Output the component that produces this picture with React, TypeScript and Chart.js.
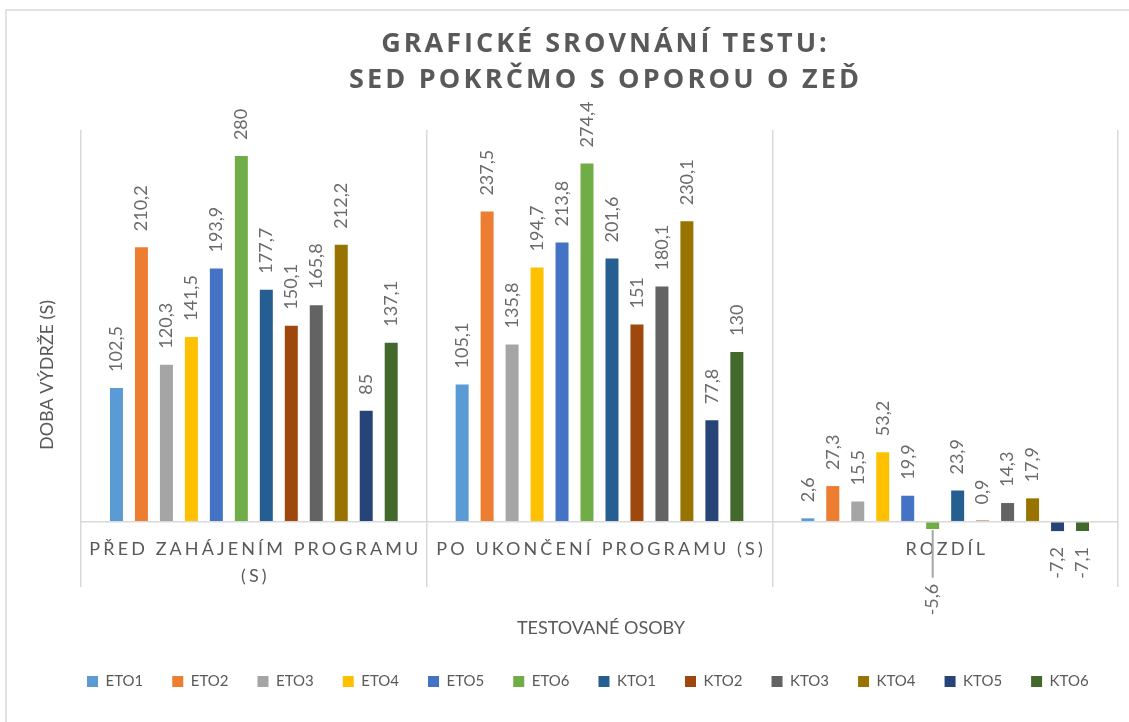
import React, { useEffect, useRef } from 'react';
import { Chart, registerables } from 'chart.js';

Chart.register(...registerables);

// ---- data ----
const categoryLines: string[][] = [
  ['PŘED ZAHÁJENÍM PROGRAMU', '(S)'],
  ['PO UKONČENÍ PROGRAMU (S)'],
  ['ROZDÍL'],
];
const seriesNames = ['ETO1', 'ETO2', 'ETO3', 'ETO4', 'ETO5', 'ETO6', 'KTO1', 'KTO2', 'KTO3', 'KTO4', 'KTO5', 'KTO6'];
const beforeValues = [102.5, 210.2, 120.3, 141.5, 193.9, 280, 177.7, 150.1, 165.8, 212.2, 85, 137.1];
const afterValues = [105.1, 237.5, 135.8, 194.7, 213.8, 274.4, 201.6, 151, 180.1, 230.1, 77.8, 130];
const diffValues = [2.6, 27.3, 15.5, 53.2, 19.9, -5.6, 23.9, 0.9, 14.3, 17.9, -7.2, -7.1];
const seriesColors = ['#5B9BD5', '#ED7D31', '#A5A5A5', '#FFC000', '#4472C4', '#70AD47', '#255E91', '#9E480E', '#636363', '#997300', '#264478', '#43682B'];
const titleLines = ['GRAFICKÉ SROVNÁNÍ TESTU:', 'SED POKRČMO S OPOROU O ZEĎ'];
const yTitle = 'DOBA VÝDRŽE (S)';
const xTitle = 'TESTOVANÉ OSOBY';
const yMin = -50;
const yMax = 300;

const TEXT = '#595959';
const LABEL = '#6a6a6a';
const GRID = '#d9d9d9';

const fmt = (v: number) => String(v).replace('.', ',');

function drawSpaced(ctx: CanvasRenderingContext2D, text: string, x: number, y: number, spacing: number) {
  (ctx as any).letterSpacing = spacing + 'px';
  ctx.textAlign = 'center';
  ctx.fillText(text, x + spacing / 2, y);
  (ctx as any).letterSpacing = '0px';
}

const catFont = '18px Lato';
const catSpacing = 3.1;
const catLineH = 27;
const catOffset = 27; // from zero line to first line centre

const excelPlugin = {
  id: 'excelText',
  beforeDraw(chart: any) {
    const ctx: CanvasRenderingContext2D = chart.ctx;
    ctx.save();
    // outer chart border
    ctx.strokeStyle = '#e3e3e3';
    ctx.lineWidth = 2;
    ctx.strokeRect(6, 10, 1200, 800);
    // title
    ctx.fillStyle = TEXT;
    ctx.font = 'bold 27px "Open Sans"';
    ctx.textBaseline = 'middle';
    drawSpaced(ctx, titleLines[0], 604, 44, 3);
    drawSpaced(ctx, titleLines[1], 604, 80, 3.2);
    // axis titles
    ctx.font = '18px Lato';
    ctx.textAlign = 'center';
    ctx.fillText(xTitle, 601, 628);
    ctx.translate(47, 375);
    ctx.rotate(-Math.PI / 2);
    ctx.fillText(yTitle, 0, 0);
    ctx.restore();
  },
  afterDatasetsDraw(chart: any) {
    const ctx: CanvasRenderingContext2D = chart.ctx;
    const xs = chart.scales.x;
    const ys = chart.scales.y;
    const zeroY = ys.getPixelForValue(0);
    ctx.save();
    // category labels next to the zero line
    ctx.font = catFont;
    ctx.fillStyle = TEXT;
    ctx.textBaseline = 'middle';
    const boxes: { l: number; r: number; t: number; b: number }[] = [];
    categoryLines.forEach((lines, ci) => {
      const cx = xs.getPixelForValue(ci);
      let maxW = 0;
      lines.forEach((ln, li) => {
        (ctx as any).letterSpacing = catSpacing + 'px';
        maxW = Math.max(maxW, ctx.measureText(ln).width);
        drawSpaced(ctx, ln, cx, zeroY + catOffset + li * catLineH, catSpacing);
      });
      boxes.push({
        l: cx - maxW / 2,
        r: cx + maxW / 2,
        t: zeroY + catOffset - 10,
        b: zeroY + catOffset + (lines.length - 1) * catLineH + 10,
      });
    });
    // data labels
    ctx.font = '18px Lato';
    ctx.fillStyle = LABEL;
    ctx.textBaseline = 'middle';
    const gap = 16;
    chart.data.datasets.forEach((ds: any, di: number) => {
      const meta = chart.getDatasetMeta(di);
      meta.data.forEach((el: any, ci: number) => {
        const v = ds.data[ci];
        const txt = fmt(v);
        ctx.save();
        if (v >= 0) {
          ctx.translate(el.x, el.y - gap);
          ctx.rotate(-Math.PI / 2);
          ctx.textAlign = 'left';
          ctx.fillText(txt, 0, 0);
        } else {
          let anchor = el.y + gap;
          const w = ctx.measureText(txt).width;
          const bx = boxes[ci];
          const hits = el.x > bx.l && el.x < bx.r && anchor < bx.b && anchor + w > bx.t;
          if (hits) {
            const newAnchor = zeroY + catOffset + 35;
            ctx.strokeStyle = '#a6a6a6';
            ctx.lineWidth = 2;
            ctx.beginPath();
            ctx.moveTo(el.x, el.y + 1);
            ctx.lineTo(el.x, newAnchor - 6);
            ctx.stroke();
            anchor = newAnchor;
          }
          ctx.translate(el.x, anchor);
          ctx.rotate(-Math.PI / 2);
          ctx.textAlign = 'right';
          ctx.fillText(txt, 0, 0);
        }
        ctx.restore();
      });
    });
    ctx.restore();
  },
};

export default function App() {
  const ref = useRef<HTMLCanvasElement | null>(null);
  useEffect(() => {
    if (!ref.current) return;
    const datasets = seriesNames.map((name, i) => ({
      label: name,
      data: [beforeValues[i], afterValues[i], diffValues[i]],
      backgroundColor: seriesColors[i],
      borderWidth: 0,
      categoryPercentage: 0.867,
      barPercentage: 0.52,
    }));
    const chart = new Chart(ref.current, {
      type: 'bar',
      data: { labels: categoryLines.map((l) => l.join(' ')), datasets },
      options: {
        animation: false,
        responsive: false,
        devicePixelRatio: 1,
        layout: { padding: { left: 58, right: 11, top: 130, bottom: 23 } },
        plugins: {
          title: { display: false },
          tooltip: { enabled: false },
          legend: {
            position: 'bottom',
            align: 'start',
            labels: {
              boxWidth: 11,
              boxHeight: 11,
              padding: 29,
              color: TEXT,
              font: { family: 'Lato', size: 15 },
            },
          },
        },
        scales: {
          x: {
            ticks: { display: false },
            grid: { offset: true, color: GRID, lineWidth: 1.5, drawTicks: false },
            border: { display: false },
            afterFit: (s: any) => {
              s.height = 58;
            },
          },
          y: {
            min: yMin,
            max: yMax,
            ticks: { display: false, stepSize: 50 },
            grid: {
              color: (c: any) => (c.tick && c.tick.value === 0 ? GRID : 'rgba(0,0,0,0)'),
              lineWidth: 1.5,
              drawTicks: false,
            },
            border: { display: false },
            afterFit: (s: any) => {
              s.width = 23;
            },
          },
        },
      },
      plugins: [excelPlugin],
    });
    return () => chart.destroy();
  }, []);
  return (
    <div style={{ position: 'absolute', left: 0, top: 0, width: 1129, height: 722, background: '#fff' }}>
      <canvas ref={ref} width={1129} height={722} style={{ display: 'block' }} />
    </div>
  );
}
